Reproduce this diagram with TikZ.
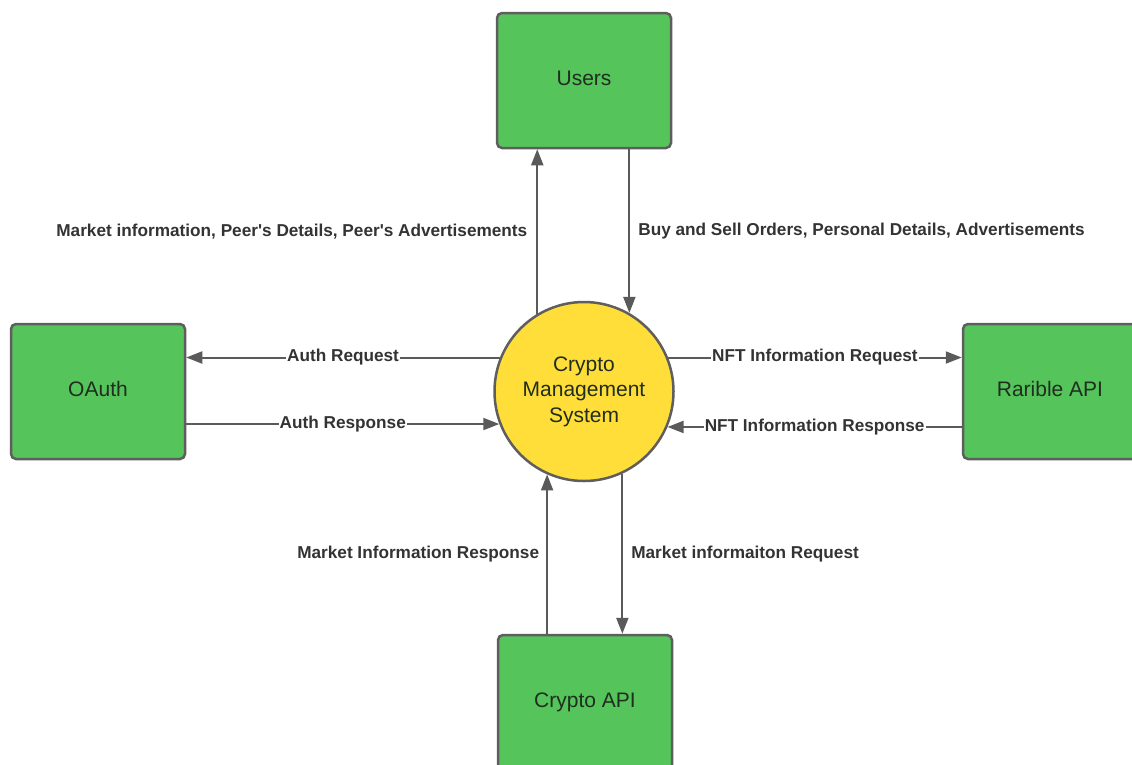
\documentclass[tikz,border=0pt]{standalone}
\usepackage{fontspec}
\setmainfont{Liberation Sans}
\usetikzlibrary{arrows.meta}
\definecolor{boxgreen}{RGB}{85,196,90}
\definecolor{sysyellow}{RGB}{255,222,58}
\definecolor{edgegray}{RGB}{94,94,94}
\definecolor{linegray}{RGB}{90,90,90}
\definecolor{labeltext}{RGB}{51,51,51}
\definecolor{nodetext}{RGB}{32,45,32}

\begin{document}
\begin{tikzpicture}[x=1pt,y=-1pt,
  entity/.style={draw=edgegray, line width=2.5pt, fill=boxgreen, rounded corners=5pt,
    minimum width=174pt, minimum height=135pt, inner sep=0pt, text=nodetext,
    text height=15pt, text depth=4.5pt,
    font=\fontsize{21}{25.5}\selectfont},
  process/.style={circle, draw=edgegray, line width=2.5pt, fill=sysyellow,
    minimum size=179pt, inner sep=0pt, align=center, text=nodetext,
    font=\fontsize{21}{25.5}\selectfont},
  flow/.style={draw=linegray, line width=2pt, -{Triangle[length=16pt,width=12pt]}},
  flowlabel/.style={font=\bfseries\fontsize{17.2}{20}\selectfont, text=labeltext, inner sep=0pt},
  onlinelabel/.style={flowlabel, fill=white, inner xsep=1pt, inner ysep=0pt, midway}
]
\fill[white] (0,0) rectangle (1132,764);
\useasboundingbox (0,0) rectangle (1132,764);

% external entities and the central process
\node[entity] (users) at (584,80.5) {Users};
\node[entity] (oauth) at (98,391.5) {OAuth};
\node[entity] (rarible) at (1050,391.5) {Rarible API};
\node[entity] (cryptoapi) at (585,702.5) {Crypto API};
\node[process] (cms) at (584,391.5) {Crypto\\Management\\System};

% OAuth flows
\draw[flow] (cms.158.7) -- (oauth.east |- cms.158.7)
  node[onlinelabel] {Auth Request};
\draw[flow] (oauth.east |- cms.201.3) -- (cms.201.3)
  node[onlinelabel] {Auth Response};

% Rarible flows
\draw[flow] (cms.22.7) -- (rarible.west |- cms.22.7)
  node[onlinelabel] {NFT Information Request};
\draw[flow] (rarible.west |- cms.-23) -- (cms.-23)
  node[onlinelabel] {NFT Information Response};

% Users flows
\draw[flow] (cms.121.7) -- (users.south -| cms.121.7)
  node[flowlabel, midway, anchor=east, xshift=-9pt]
  {Market information, Peer\textquotesingle s Details, Peer\textquotesingle s Advertisements};
\draw[flow] (users.south -| cms.60.5) -- (cms.60.5)
  node[flowlabel, midway, anchor=west, xshift=8pt]
  {Buy and Sell Orders, Personal Details, Advertisements};

% Crypto API flows
\draw[flow] (cryptoapi.north -| cms.246.3) -- (cms.246.3)
  node[flowlabel, midway, anchor=east, xshift=-7pt] {Market Information Response};
\draw[flow] (cms.-65.6) -- (cryptoapi.north -| cms.-65.6)
  node[flowlabel, midway, anchor=west, xshift=8pt] {Market informaiton Request};
\end{tikzpicture}
\end{document}
